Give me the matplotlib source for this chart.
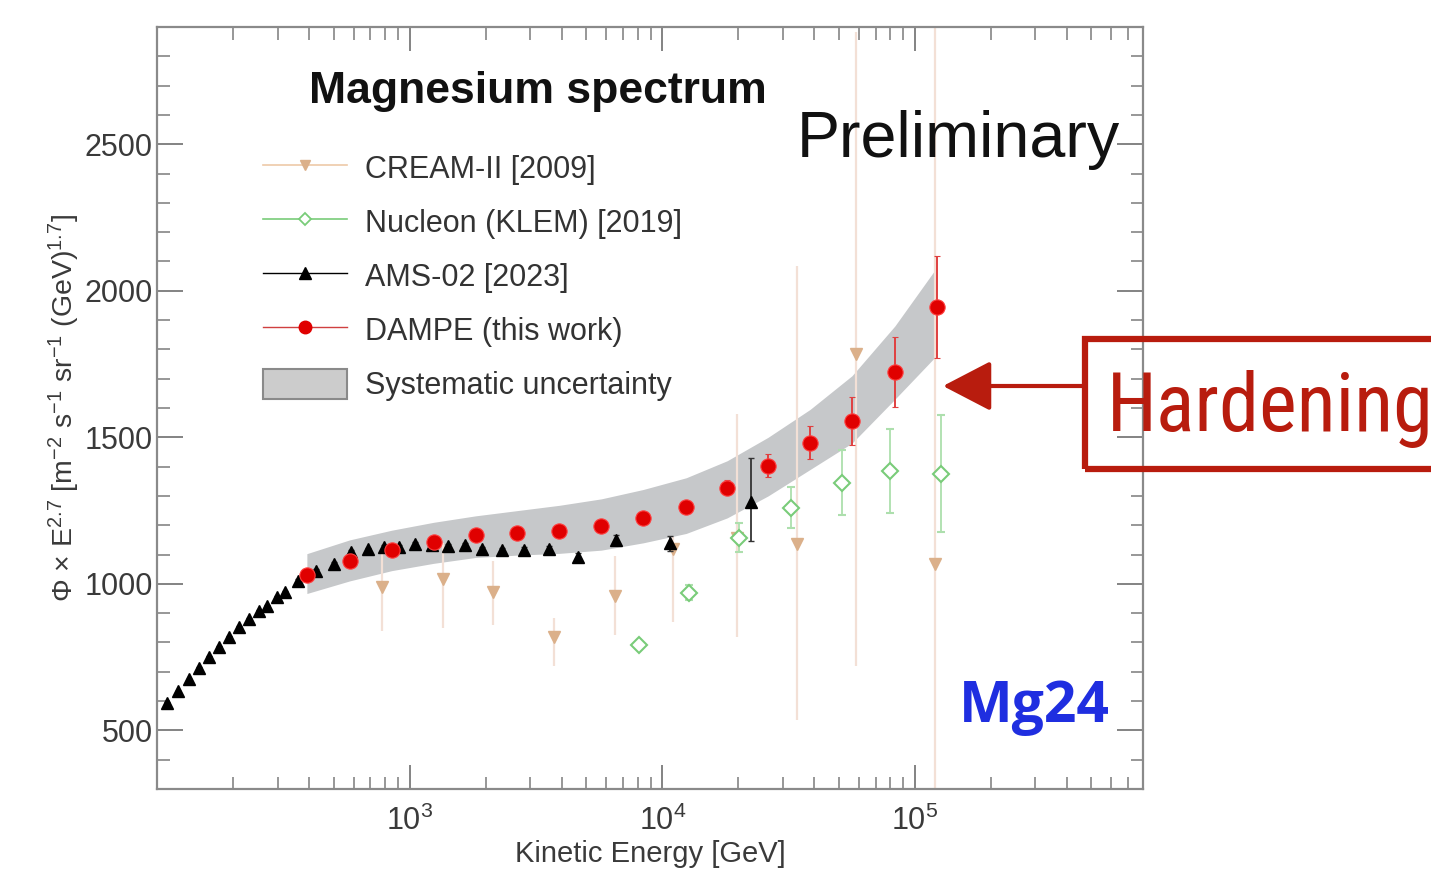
import matplotlib
matplotlib.use("Agg")
import matplotlib.pyplot as plt
from matplotlib import font_manager
from matplotlib.lines import Line2D
from matplotlib.patches import Patch, Rectangle
from matplotlib.ticker import MultipleLocator, LogLocator, NullFormatter, FixedLocator

# ---------------- data ----------------
ams_E = [109.5, 120.7, 133.4, 147.0, 160.1, 175.4, 192.0, 210.3, 230.5, 252.4,
         272.2, 298.1, 321.6, 360.8, 425.1, 500.8, 584.7, 682.3, 789.4, 904.6,
         1046, 1222, 1413, 1650, 1943, 2331, 2848, 3575, 4656, 6579, 10755, 22480]
ams_flux = [593, 633, 674, 712, 752, 786, 820, 852, 881, 909,
            926, 954, 971, 1011, 1045, 1069, 1110, 1120, 1127, 1127,
            1137, 1134, 1130, 1134, 1120, 1117, 1117, 1120, 1093, 1151, 1138, 1280]
ams_err_lo = [3, 3, 3, 3, 3, 3, 3, 3, 3, 3,
              3, 3, 3, 4, 4, 4, 4, 4, 4, 4,
              5, 5, 5, 6, 6, 7, 8, 9, 12, 16, 25, 135]
ams_err_hi = [3, 3, 3, 3, 3, 3, 3, 3, 3, 3,
              3, 3, 3, 4, 4, 4, 4, 4, 4, 4,
              5, 5, 5, 6, 6, 7, 8, 9, 12, 16, 25, 150]

dampe_E = [392, 579, 849, 1245, 1824, 2673, 3917, 5741, 8414, 12445,
           18072, 26242, 38459, 56364, 83368, 122180]
dampe_flux = [1031, 1079, 1117, 1144, 1168, 1175, 1181, 1198, 1226, 1263,
              1328, 1403, 1481, 1556, 1723, 1945]
dampe_err = [6, 6, 7, 7, 8, 9, 10, 12, 15, 20, 26, 40, 56, 81, 118, 174]
sys_lo = [967, 1010, 1045, 1070, 1090, 1098, 1104, 1115, 1140, 1172,
          1225, 1300, 1390, 1480, 1630, 1780]
sys_hi = [1103, 1150, 1183, 1210, 1232, 1250, 1268, 1290, 1322, 1362,
          1420, 1500, 1595, 1710, 1880, 2080]

cream_E = [774, 1350, 2147, 3741, 6516, 11043, 19775, 34170, 58480, 119950]
cream_flux = [990, 1018, 973, 817, 957, 1120, 1158, 1137, 1784, 1069]
cream_err_lo = [150, 167, 115, 96, 133, 250, 340, 603, 1063, 1000]
cream_err_hi = [130, 120, 106, 68, 139, 40, 420, 947, 1100, 2000]

nuc_E = [8110, 12790, 20130, 32350, 51420, 79570, 126700]
nuc_flux = [793, 970, 1158, 1260, 1345, 1386, 1376]
nuc_err = [10, 25, 51, 71, 110, 143, 200]

legend_labels = ["CREAM-II [2009]", "Nucleon (KLEM) [2019]", "AMS-02 [2023]",
                 "DAMPE (this work)", "Systematic uncertainty"]
x_ticks = [1e3, 1e4, 1e5]
y_ticks = [500, 1000, 1500, 2000, 2500]

# ---------------- fonts ----------------
names = {f.name for f in font_manager.fontManager.ttflist}
base_font = "Liberation Sans" if "Liberation Sans" in names else "DejaVu Sans"
hard_font = "Roboto"
for cand in ["Roboto Condensed", "Liberation Sans Narrow", "Roboto"]:
    if cand in names:
        hard_font = cand
        break
plt.rcParams["font.family"] = [base_font, "DejaVu Sans"]
plt.rcParams["mathtext.fontset"] = "custom"
plt.rcParams["mathtext.rm"] = base_font
plt.rcParams["mathtext.it"] = base_font + ":italic"
plt.rcParams["mathtext.bf"] = base_font + ":bold"

W, H = 1431, 869
fig = plt.figure(figsize=(W / 100, H / 100), dpi=100)
ax = fig.add_axes([157 / W, 1 - 789 / H, 986 / W, 762 / H])

c_cream_m = "#dbb08a"
c_cream_l = "#f3e0d6"
c_nuc = "#79cc79"
c_nuc_l = "#addfad"
c_red = "#e00000"
c_band = "#c6c8ca"

ax.fill_between(dampe_E, sys_lo, sys_hi, color=c_band, lw=0, zorder=1)

ax.errorbar(cream_E, cream_flux, yerr=[cream_err_lo, cream_err_hi], fmt="v",
            ms=9, mfc=c_cream_m, mec=c_cream_m, ecolor=c_cream_l, elinewidth=1.6,
            capsize=0, zorder=2)
ax.errorbar(nuc_E, nuc_flux, yerr=nuc_err, fmt="D", ms=8, mfc="white",
            mec=c_nuc, mew=1.5, ecolor=c_nuc_l, elinewidth=1.3, capsize=3,
            zorder=3)
ax.errorbar(ams_E, ams_flux, yerr=[ams_err_lo, ams_err_hi], fmt="^", ms=9,
            mfc="black", mec="black", ecolor="#333333", elinewidth=1.3,
            capsize=2, zorder=4)
ax.errorbar(dampe_E, dampe_flux, yerr=dampe_err, fmt="o", ms=11, mfc=c_red,
            mec="#ff4040", mew=0.8, ecolor="#e04040", elinewidth=1.4, capsize=2,
            zorder=5)

ax.set_xscale("log")
ax.set_xlim(100, 8e5)
ax.set_ylim(300, 2900)
ax.xaxis.set_major_locator(FixedLocator(x_ticks))
ax.xaxis.set_minor_locator(LogLocator(base=10, subs=[2, 3, 4, 5, 6, 7, 8, 9], numticks=20))
ax.xaxis.set_minor_formatter(NullFormatter())
ax.set_xticklabels([r"$10^{3}$", r"$10^{4}$", r"$10^{5}$"])
ax.yaxis.set_major_locator(FixedLocator(y_ticks))
ax.yaxis.set_minor_locator(MultipleLocator(100))

ax.tick_params(which="both", direction="in", top=True, right=True,
               color="#7a7a7a", labelcolor="#3a3a3a", labelsize=22)
ax.tick_params(axis="x", which="major", length=17, width=1.3, pad=12)
ax.tick_params(axis="x", which="minor", length=9, width=1.1)
ax.tick_params(axis="y", which="major", length=19, width=1.3, pad=3)
ax.tick_params(axis="y", which="minor", length=9, width=1.1)
for s in ax.spines.values():
    s.set_color("#8a8a8a")
    s.set_linewidth(1.6)

ax.set_xlabel("Kinetic Energy [GeV]", fontsize=21, color="#3a3a3a", labelpad=2)
ax.set_ylabel("Φ × E$^{2.7}$ [m$^{-2}$ s$^{-1}$ sr$^{-1}$ (GeV)$^{1.7}$]",
              fontsize=20.5, color="#3a3a3a", labelpad=2)

handles = [
    Line2D([], [], color="#edc9a8", lw=1.2, marker="v", ms=7, mfc=c_cream_m, mec=c_cream_m),
    Line2D([], [], color=c_nuc, lw=1.2, marker="D", ms=6, mfc="white", mec=c_nuc, mew=1.3),
    Line2D([], [], color="black", lw=1.0, marker="^", ms=8, mfc="black", mec="black"),
    Line2D([], [], color="#d04040", lw=1.0, marker="o", ms=9, mfc=c_red, mec=c_red),
    Patch(facecolor="#cccccc", edgecolor="#8a8a8a", lw=1.5),
]
leg = ax.legend(handles, legend_labels, loc="upper left",
                bbox_to_anchor=((263 - 157) / 986, 1 - (152 - 27) / 762),
                frameon=False, fontsize=22, handlelength=2.75, handleheight=1.15,
                handletextpad=0.6, labelspacing=0.71, borderpad=0,
                borderaxespad=0)
for t in leg.get_texts():
    t.set_color("#333333")

ax.text((538 - 157) / 986, 1 - (92 - 27) / 762, "Magnesium spectrum",
        transform=ax.transAxes, ha="center", va="center", fontsize=32,
        fontweight="bold", color="#111111")
ax.text((797 - 157) / 986, 1 - (140 - 27) / 762, "Preliminary",
        transform=ax.transAxes, ha="left", va="center", fontsize=46.5,
        color="#111111")
ax.text((1110 - 157) / 986, 1 - (707 - 27) / 762, "Mg24",
        transform=ax.transAxes, ha="right", va="center", fontsize=41,
        fontweight="bold", color="#1f2ee0",
        family=["Open Sans", base_font, "DejaVu Sans"])

# Hardening annotation
red = "#b81c0e"
fig.add_artist(Rectangle((1085 / W, 1 - 469 / H), 400 / W, 130 / H,
                         transform=fig.transFigure, fill=False, ec=red, lw=4.5,
                         clip_on=False))
fig.text(1107 / W, 1 - 431 / H, "Hardening", ha="left", va="baseline",
         fontsize=58, color=red, family=[hard_font, "DejaVu Sans"])
ax.annotate("", xy=(943 / W, 1 - 386 / H), xycoords="figure fraction",
            xytext=(1085 / W, 1 - 386 / H), textcoords="figure fraction",
            arrowprops=dict(arrowstyle="-|>,head_length=1.0,head_width=0.52",
                            mutation_scale=30, lw=3.0, color=red,
                            shrinkA=0, shrinkB=0), annotation_clip=False)

fig.savefig("out.png", dpi=100)
